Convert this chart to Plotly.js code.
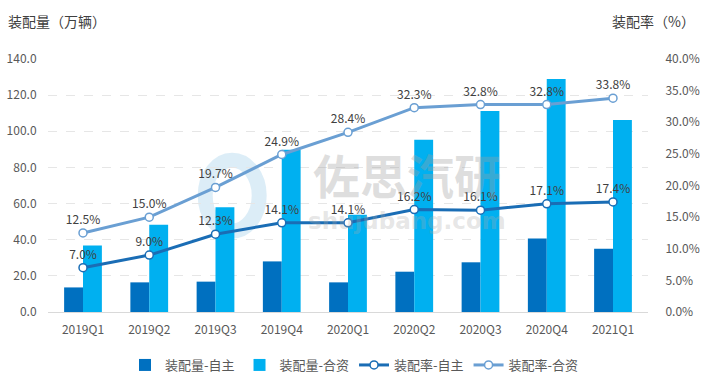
<!DOCTYPE html>
<html><head><meta charset="utf-8">
<script src="https://cdn.plot.ly/plotly-3.0.1.min.js"></script>
<style>html,body{margin:0;padding:0;background:#fff}#chart{width:709px;height:383px}</style>
</head><body><div id="chart"></div>
<script>
const categories = ['2019Q1','2019Q2','2019Q3','2019Q4','2020Q1','2020Q2','2020Q3','2020Q4','2021Q1'];
const volDomestic = [13.6, 16.4, 16.8, 28.0, 16.4, 22.3, 27.5, 40.7, 35.0];
const volJV = [36.8, 48.3, 57.9, 89.8, 53.8, 95.3, 111.2, 129.0, 106.3];
const rateDomestic = [7.0, 9.0, 12.3, 14.1, 14.1, 16.2, 16.1, 17.1, 17.4];
const rateJV = [12.5, 15.0, 19.7, 24.9, 28.4, 32.3, 32.8, 32.8, 33.8];
const leftTicks = [0,20,40,60,80,100,120,140];
const rightTicks = [0,5,10,15,20,25,30,35,40];

const F = '"Noto Sans CJK SC", "Noto Sans", sans-serif';
const C1 = '#0070C0', C2 = '#00B0F0', L1 = '#1A6DB5', L2 = '#6A9FD3';
const NOTICK = 'rgba(0,0,0,0)';

const traces = [
  {type:'bar', name:'装配量-自主', x:categories, y:volDomestic, marker:{color:C1}, yaxis:'y'},
  {type:'bar', name:'装配量-合资', x:categories, y:volJV, marker:{color:C2}, yaxis:'y'},
  {type:'scatter', mode:'lines+markers+text', name:'装配率-自主', x:categories, y:rateDomestic, yaxis:'y2',
   line:{color:L1, width:3}, marker:{symbol:'circle', size:8, color:'#fff', line:{color:L1, width:1.5}},
   text: rateDomestic.map(v=>v.toFixed(1)+'%'), textposition:'top center', textfont:{size:12, color:'#404040', family:F}},
  {type:'scatter', mode:'lines+markers+text', name:'装配率-合资', x:categories, y:rateJV, yaxis:'y2',
   line:{color:L2, width:3}, marker:{symbol:'circle', size:8, color:'#fff', line:{color:L2, width:1.5}},
   text: rateJV.map(v=>v.toFixed(1)+'%'), textposition:'top center', textfont:{size:12, color:'#404040', family:F}}
];

const layout = {
  width:709, height:383,
  margin:{l:48, r:61, t:59, b:71},
  paper_bgcolor:'#fff', plot_bgcolor:'#fff',
  font:{family:F, size:12, color:'#595959'},
  barmode:'group', bargap:0.43, bargroupgap:0,
  showlegend:true,
  legend:{orientation:'h', x:0.5, xanchor:'center', xref:'container', yref:'container', y:0.047, yanchor:'middle', font:{size:13, color:'#595959'}, traceorder:'normal', itemwidth:30},
  xaxis:{type:'category', showline:true, linecolor:'#d9d9d9', linewidth:1, ticks:'outside', ticklen:7, tickcolor:NOTICK, tickfont:{size:12, color:'#595959'}, showgrid:false, zeroline:false},
  yaxis:{range:[0,140], tickvals:leftTicks, ticktext:leftTicks.map(v=>v.toFixed(1)), showgrid:true, gridcolor:'#e6e6e6', griddash:'dash', gridwidth:1, zeroline:false, ticks:'outside', ticklen:8, tickcolor:NOTICK, tickfont:{size:12, color:'#595959'}, showline:false},
  yaxis2:{overlaying:'y', side:'right', range:[0,40], tickvals:rightTicks, ticktext:rightTicks.map(v=>v.toFixed(1)+'%'), showgrid:false, zeroline:false, ticks:'outside', ticklen:14, tickcolor:NOTICK, tickfont:{size:12, color:'#595959'}, showline:false},
  annotations:[
    {text:'装配量（万辆）', xref:'paper', yref:'paper', x:-0.07, y:1.0, yshift:38, xanchor:'left', yanchor:'middle', showarrow:false, font:{size:14, color:'#404040', family:F}},
    {text:'装配率（%）', xref:'paper', yref:'paper', x:1.082, y:1.0, yshift:38, xanchor:'right', yanchor:'middle', showarrow:false, font:{size:14, color:'#404040', family:F}},
    {text:'<b>佐思汽研</b>', xref:'paper', yref:'paper', x:0.598, y:0.549, xanchor:'center', yanchor:'middle', showarrow:false, font:{size:47, color:'rgba(160,160,160,0.35)', family:F}},
    {text:'<b>shujubang.com</b>', xref:'paper', yref:'paper', x:0.598, y:0.36, xanchor:'center', yanchor:'middle', showarrow:false, font:{size:23, color:'rgba(170,170,170,0.3)', family:'"DejaVu Sans", sans-serif'}}
  ],
  shapes:[
    {type:'circle', xref:'paper', yref:'paper', x0:0.262, x1:0.352, y0:0.32, y1:0.6, line:{color:'rgba(130,190,225,0.28)', width:15}, layer:'below'}
  ]
};

Plotly.newPlot('chart', traces, layout, {displayModeBar:false, staticPlot:true});
</script></body></html>
